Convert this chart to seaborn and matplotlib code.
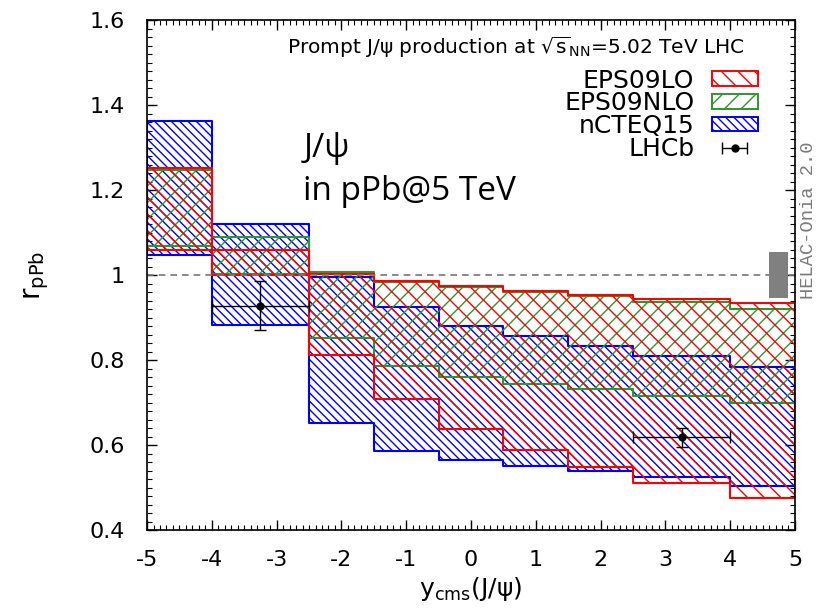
import numpy as np
import matplotlib
matplotlib.use("Agg")
import matplotlib.pyplot as plt
from matplotlib.patches import Patch, Rectangle
from matplotlib.ticker import MultipleLocator
import seaborn as sns

# ---- data ----
bin_edges = [-5, -4, -2.5, -1.5, -0.5, 0.5, 1.5, 2.5, 4, 5]
eps09lo_low = [1.058, 1.000, 0.812, 0.709, 0.639, 0.589, 0.548, 0.511, 0.475]
eps09lo_high = [1.252, 1.059, 1.003, 0.987, 0.974, 0.963, 0.954, 0.944, 0.935]
eps09nlo_low = [1.068, 1.002, 0.852, 0.787, 0.760, 0.744, 0.732, 0.715, 0.698]
eps09nlo_high = [1.248, 1.089, 1.008, 0.984, 0.971, 0.960, 0.951, 0.936, 0.921]
ncteq15_low = [1.047, 0.882, 0.651, 0.587, 0.565, 0.552, 0.540, 0.524, 0.504]
ncteq15_high = [1.362, 1.121, 0.995, 0.924, 0.881, 0.856, 0.834, 0.809, 0.783]

lhcb_y = [-3.25, 3.25]
lhcb_r = [0.928, 0.620]
lhcb_xerr = [0.75, 0.75]
lhcb_yerr_lo = [0.057, 0.024]
lhcb_yerr_hi = [0.058, 0.021]

norm_box_x = [4.6, 4.9]
norm_box_y = [0.946, 1.054]

sns.set_theme(style="ticks")
plt.rcParams["font.family"] = ["DejaVu Sans"]
plt.rcParams["mathtext.fontset"] = "dejavusans"
plt.rcParams["axes.unicode_minus"] = False
plt.rcParams["hatch.linewidth"] = 1.0
for k in ["text.color", "axes.labelcolor", "xtick.color", "ytick.color",
          "axes.edgecolor"]:
    plt.rcParams[k] = "black"

fig = plt.figure(figsize=(8.17, 6.08), dpi=100)
ax = fig.add_axes([0.18, 0.128, 0.793, 0.839])

edges = np.array(bin_edges, dtype=float)
bands = [
    ("EPS09LO", eps09lo_low, eps09lo_high, "#ff0000", "\\\\"),
    ("EPS09NLO", eps09nlo_low, eps09nlo_high, "#2f962f", "//"),
    ("nCTEQ15", ncteq15_low, ncteq15_high, "#0000ff", "\\\\\\\\"),
]
handles = []
for name, lo, hi, col, hat in bands[::-1]:
    lo_e = np.append(lo, lo[-1])
    hi_e = np.append(hi, hi[-1])
    ax.fill_between(edges, lo_e, hi_e, step="post", facecolor="none",
                    edgecolor=col, hatch=hat, linewidth=1.5)
for name, lo, hi, col, hat in bands:
    handles.append(Patch(facecolor="none", edgecolor=col, hatch=hat,
                         linewidth=1.4, label=name))

# LHCb data
ax.errorbar(lhcb_y, lhcb_r, xerr=lhcb_xerr,
            yerr=[lhcb_yerr_lo, lhcb_yerr_hi], fmt="none", ecolor="black",
            elinewidth=1.0, capsize=4, capthick=1.0)
sns.scatterplot(x=lhcb_y, y=lhcb_r, ax=ax, color="black", s=30,
                edgecolor="black", zorder=5, legend=False)
proxy = ax.errorbar([np.nan], [np.nan], xerr=[[0.5], [0.5]], fmt="o",
                    color="black", markersize=5, elinewidth=1.0,
                    capsize=4, capthick=1.0, label="LHCb")
handles.append(proxy)

# normalisation box
ax.add_patch(Rectangle((norm_box_x[0], norm_box_y[0]),
                       norm_box_x[1] - norm_box_x[0],
                       norm_box_y[1] - norm_box_y[0],
                       facecolor="#808080", edgecolor="none", zorder=4))

ax.axhline(1.0, color="#777777", linestyle=(0, (4, 3)), linewidth=1.2,
           zorder=1)

ax.set_xlim(-5, 5)
ax.set_ylim(0.4, 1.6)
ax.xaxis.set_major_locator(MultipleLocator(1))
ax.xaxis.set_minor_locator(MultipleLocator(0.1))
ax.yaxis.set_minor_locator(MultipleLocator(0.02))
ax.set_yticks([0.4, 0.6, 0.8, 1.0, 1.2, 1.4, 1.6])
ax.set_yticklabels(["0.4", "0.6", "0.8", "1", "1.2", "1.4", "1.6"])
ax.tick_params(which="both", direction="in", top=True, right=True,
               labelsize=16, color="black", labelcolor="black")
ax.tick_params(which="major", length=7, width=1.0)
ax.tick_params(axis="y", which="major", pad=16)
ax.tick_params(axis="x", which="major", pad=14)
ax.tick_params(which="minor", length=3.5, width=0.8)
for s in ax.spines.values():
    s.set_linewidth(1.2)
    s.set_color("black")

ax.set_xlabel(r"y$_{\rm cms}$(J/ψ)", fontsize=18, labelpad=4)
ax.set_ylabel(r"r$_{\rm pPb}$", fontsize=20, labelpad=28)

ax.text(0.923, 0.933,
        r"Prompt J/ψ production at $\sqrt{\rm s}_{\rm NN}$=5.02 TeV LHC",
        transform=ax.transAxes, ha="right", va="baseline", fontsize=14.5)
ax.text(0.241, 0.731, "J/ψ", transform=ax.transAxes, ha="left",
        va="baseline", fontsize=24, family=["Open Sans", "DejaVu Sans"])
ax.text(0.241, 0.647, "in pPb@5 TeV", transform=ax.transAxes, ha="left",
        va="baseline", fontsize=24, family=["Open Sans", "DejaVu Sans"])

fig.text(0.989, 0.638, "HELAC-Onia 2.0", rotation=90, ha="center",
         va="center", fontsize=13.5, color="#7a7a7a",
         family=["Liberation Mono", "DejaVu Sans Mono"])

leg = ax.legend(handles=handles, loc="upper right",
                bbox_to_anchor=(0.943, 0.905), frameon=False,
                markerfirst=False, fontsize=18, handlelength=1.85,
                handleheight=0.52, labelspacing=-0.05, handletextpad=0.7,
                borderpad=0.0, borderaxespad=0.0)

fig.savefig("out.png", dpi=100)
